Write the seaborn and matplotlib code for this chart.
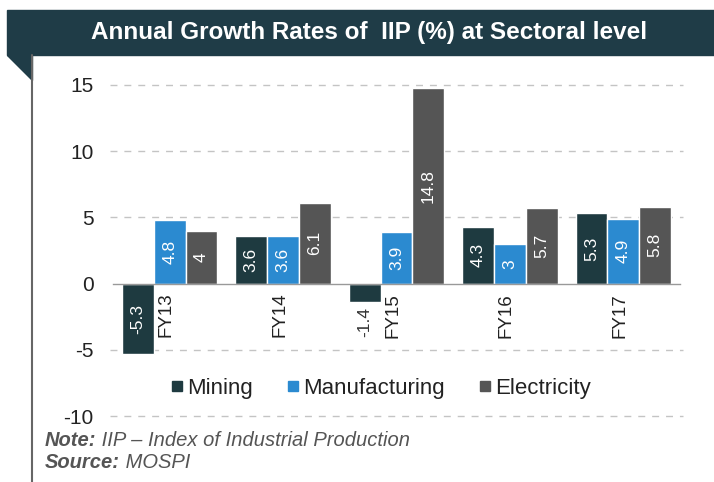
import numpy as np
import pandas as pd
import matplotlib
matplotlib.use("Agg")
import matplotlib.pyplot as plt
from matplotlib.patches import Rectangle, Polygon
from matplotlib.lines import Line2D
from matplotlib.transforms import offset_copy
import seaborn as sns

# Annual growth of the Index of Industrial Production by sector (%)
years = ["FY13", "FY14", "FY15", "FY16", "FY17"]
sectors = ["Mining", "Manufacturing", "Electricity"]
mining = [-5.3, 3.6, -1.4, 4.3, 5.3]
manufacturing = [4.8, 3.6, 3.9, 3.0, 4.9]
electricity = [4.0, 6.1, 14.8, 5.7, 5.8]
y_ticks = [-10, -5, 0, 5, 10, 15]

colors = ["#1e3a40", "#2b8ad0", "#555555"]
banner = "#1f3c47"

df = pd.DataFrame({
    "Year": years * 3,
    "Sector": np.repeat(sectors, len(years)),
    "Growth": mining + manufacturing + electricity,
})

sns.set_theme(style="white")
plt.rcParams["font.family"] = ["Liberation Sans", "DejaVu Sans"]
plt.rcParams["axes.unicode_minus"] = False

fig = plt.figure(figsize=(7.14, 4.82), dpi=100)
fig.patch.set_facecolor("white")

# Title banner with folded corner and left frame line
fig.patches.append(Rectangle((7 / 714, 1 - 55 / 482), 1 - 7 / 714, 45 / 482,
                             transform=fig.transFigure, color=banner, zorder=0))
fig.patches.append(Polygon([(7 / 714, 1 - 55 / 482), (32 / 714, 1 - 55 / 482),
                            (32 / 714, 1 - 80 / 482)], closed=True,
                           transform=fig.transFigure, color=banner, zorder=0))
fig.lines.append(Line2D([32 / 714, 32 / 714], [0, 1 - 55 / 482],
                        transform=fig.transFigure, color="#666666", lw=1.5))
fig.text(369 / 714, 1 - 33 / 482, "Annual Growth Rates of  IIP (%) at Sectoral level",
         ha="center", va="center", color="white", fontsize=17.5, fontweight="bold",
         family=["Liberation Sans Narrow", "Liberation Sans", "DejaVu Sans"])

ax = fig.add_axes([113 / 714, 1 - 416 / 482, (680 - 113) / 714, (416 - 85) / 482])
sns.barplot(data=df, x="Year", y="Growth", hue="Sector", palette=colors,
            width=0.84, gap=0, saturation=1, ax=ax, legend=False, zorder=3)

ax.set_ylim(-10, 15)
ax.set_xlim(-0.5, len(years) - 0.5)
ax.set_yticks(y_ticks)
ax.set_yticklabels([str(t) for t in y_ticks], fontsize=15, color="#222222")
ax.tick_params(axis="y", length=0, pad=14)
for t in y_ticks:
    if t != 0:
        ax.axhline(t, color="#c4c4c4", lw=1, ls=(0, (5, 5)), zorder=1,
                   xmin=-0.005, xmax=1.005, clip_on=False)

for side in ["top", "right", "left"]:
    ax.spines[side].set_visible(False)
ax.spines["bottom"].set_position(("data", 0))
ax.spines["bottom"].set_color("#999999")
ax.spines["bottom"].set_linewidth(1)
ax.spines["bottom"].set_zorder(4)

# Tick marks at category boundaries, labels drawn separately below the zero line
ax.set_xticks(np.arange(-0.5, len(years), 1.0))
ax.set_xticklabels([])
ax.tick_params(axis="x", direction="out", length=5, color="#999999", width=1)
ax.set_xlabel("")
ax.set_ylabel("")
for i, yr in enumerate(years):
    ax.text(i - 0.03, -0.7, yr, rotation=90, ha="center", va="top",
            fontsize=13.5, color="#222222", zorder=5)

# Value labels inside the bars (outside for short bars)
for cont, vals in zip(ax.containers, [mining, manufacturing, electricity]):
    for bar, v in zip(cont, vals):
        cx = bar.get_x() + bar.get_width() / 2
        txt = f"{v:g}"
        if abs(v) < 2:
            ax.text(cx, v - 0.4, txt, rotation=90, ha="center", va="top",
                    fontsize=12.5, color="#333333", zorder=5)
        else:
            ax.text(cx, v / 2, txt, rotation=90,
                    ha="center", va="center", fontsize=12.5, color="white", zorder=5)

handles = [Line2D([], [], marker="s", ls="", markersize=6.5, color=c) for c in colors]
ax.legend(handles, sectors, loc="center", bbox_to_anchor=(0.47, (-7.9 + 10) / 25),
          ncol=3, frameon=False, fontsize=16, handletextpad=0.05,
          columnspacing=1.4, handlelength=0.8, labelcolor="#222222")

# Footnotes: bold italic heading followed by italic text
renderer = fig.canvas.get_renderer()
for ypix, head, body in [(440, "Note:", " IIP – Index of Industrial Production"),
                         (462, "Source:", " MOSPI")]:
    h = fig.text(45 / 714, 1 - ypix / 482, head, ha="left", va="center",
                 fontsize=14.5, color="#555555", style="italic", fontweight="bold")
    w = h.get_window_extent(renderer=renderer).width
    fig.text(45 / 714, 1 - ypix / 482, body, ha="left", va="center",
             fontsize=14.5, color="#555555", style="italic",
             transform=offset_copy(fig.transFigure, fig=fig, x=w, y=0, units="dots"))

fig.savefig("out.png", dpi=100)
